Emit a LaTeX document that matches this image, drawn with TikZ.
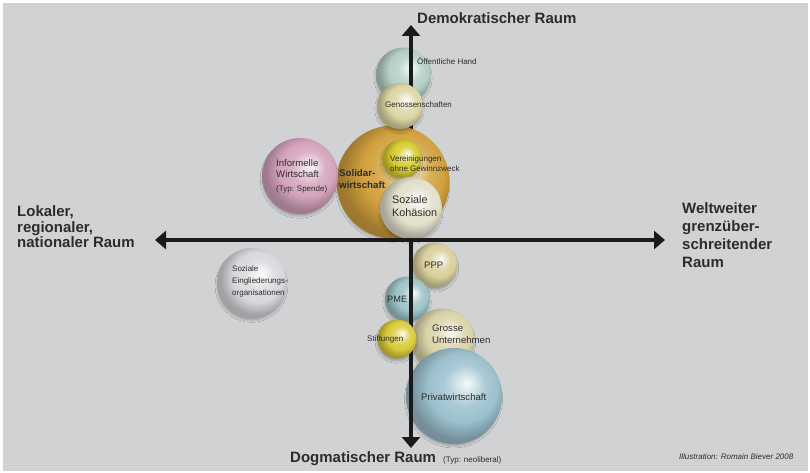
\documentclass[tikz,border=0pt]{standalone}
\usepackage{fontspec}
\setmainfont{Liberation Sans}
\usetikzlibrary{arrows.meta,shadows.blur}
\definecolor{bg}{HTML}{D1D2D4}
\definecolor{txt}{HTML}{2C2C2C}
\definecolor{axc}{HTML}{1A1A1A}
\definecolor{cOh}{HTML}{B4CFC6}
\definecolor{cGen}{HTML}{DCD6A4}
\definecolor{cSol}{HTML}{D2A13E}
\definecolor{cVer}{HTML}{D6CB2E}
\definecolor{cKoh}{HTML}{E2DFCB}
\definecolor{cInf}{HTML}{D4A3BD}
\definecolor{cSei}{HTML}{D8D8DC}
\definecolor{cPpp}{HTML}{D8CF9C}
\definecolor{cPme}{HTML}{9CC3C6}
\definecolor{cSti}{HTML}{D9CB3A}
\definecolor{cGro}{HTML}{DAD3A8}
\definecolor{cPri}{HTML}{9CC0CE}
\colorlet{bubcol}{white}
\pgfdeclareradialshading[bubcol]{bubble}{\pgfqpoint{7bp}{7bp}}{%
  color(0bp)=(bubcol!8!white); color(3bp)=(bubcol!30!white);
  color(11bp)=(bubcol!85!white); color(18bp)=(bubcol);
  color(26bp)=(bubcol!75!black); color(50bp)=(bubcol!68!black)}
\tikzset{
  bubc/.code={\colorlet{bubcol}{#1}},
  bub/.style={circle, inner sep=0pt, draw=none, shade, shading=bubble,
    blur shadow={shadow xshift=-0.5pt, shadow yshift=-3pt, shadow scale=0.97, shadow blur radius=2.5pt, shadow blur steps=6, shadow opacity=28}},
  lab/.style={text=txt, font=\fontsize{8}{10}\selectfont, inner sep=0pt, anchor=west, align=left},
  big/.style={text=txt, font=\bfseries\fontsize{15}{15.5}\selectfont, inner sep=0pt, anchor=west, align=left},
  axis/.style={line width=4pt, draw=axc, arrows={Triangle[length=11pt,width=18pt]-Triangle[length=11pt,width=18pt]}}
}
\begin{document}
\begin{tikzpicture}[x=1pt,y=-1pt]
\useasboundingbox (0,0) rectangle (810,473);
\fill[white] (0,0) rectangle (810,473);
\fill[bg] (3,3) rectangle (808,471);
% coordinates of the axes
\coordinate (vtop) at (411,25);
\coordinate (vbot) at (411,448);
\coordinate (hl) at (155,240);
\coordinate (hr) at (665,240);
% bubbles behind the vertical axis
\node[bub, bubc=cOh, minimum size=55pt] (oh) at (403.5,75) {};
\node[bub, bubc=cPpp, minimum size=45pt] (ppp) at (435,265) {};
\node[bub, bubc=cPme, minimum size=45pt] (pme) at (407.5,299) {};
\node[bub, bubc=cGro, minimum size=63pt] (gro) at (443,340) {};
\node[bub, bubc=cPri, minimum size=96pt] (pri) at (454,396) {};
% vertical axis
\draw[axis] (vbot) -- (vtop);
% bubbles in front
\node[bub, bubc=cSol, minimum size=113pt] (sol) at (393,182) {};
\node[bub, bubc=cGen, minimum size=46pt] (gen) at (400,106) {};
\node[bub, bubc=cVer, minimum size=39pt] (ver) at (402,159) {};
\node[bub, bubc=cKoh, minimum size=62pt] (koh) at (411,208) {};
\node[bub, bubc=cInf, minimum size=76pt] (inf) at (300,176) {};
\node[bub, bubc=cSei, minimum size=70pt] (sei) at (252,283) {};
\node[bub, bubc=cSti, minimum size=39pt] (sti) at (397,339) {};
% horizontal axis
\draw[axis] (hl) -- (hr);
% labels
\node[lab] (loh) at (417,61) {Öffentliche Hand};
\node[lab] (lgen) at (385,105) {Genossenschaften};
\node[lab, font=\fontsize{8}{10}\selectfont] (lver) at (390,164) {Vereinigungen\\ohne Gewinnzweck};
\node[lab, font=\fontsize{10.8}{13}\selectfont] (lkoh) at (392,206.5) {Soziale\\Kohäsion};
\node[lab, font=\bfseries\fontsize{9.7}{12}\selectfont] (lsol) at (339,179) {Solidar-\\wirtschaft};
\node[lab, font=\fontsize{9.6}{11}\selectfont] (linf) at (276,168.5) {Informelle\\Wirtschaft};
\node[lab] (linf2) at (276,189) {(Typ: Spende)};
\node[lab, font=\fontsize{8}{12}\selectfont] (lsei) at (232,281) {Soziale\\Eingliederungs-\\organisationen};
\node[lab, font=\fontsize{9.5}{11}\selectfont] (lppp) at (424,265) {PPP};
\node[lab, font=\fontsize{9.2}{11}\selectfont] (lpme) at (387,299) {PME};
\node[lab] (lsti) at (367,339) {Stiftungen};
\node[lab, font=\fontsize{9.6}{12}\selectfont] (lgro) at (432,334) {Grosse\\Unternehmen};
\node[lab, font=\fontsize{9.6}{11}\selectfont] (lpri) at (421,397) {Privatwirtschaft};
% axis titles
\node[big] (tdem) at (417,18) {Demokratischer Raum};
\node[big] (tlok) at (17,227) {Lokaler,\\regionaler,\\nationaler Raum};
\node[big, font=\bfseries\fontsize{15}{18}\selectfont] (twel) at (682,235) {Weltweiter\\grenzüber-\\schreitender\\Raum};
\node[big, anchor=base west] (tdog) at (290,462) {Dogmatischer Raum};
\node[lab, anchor=base west] (tneo) at (443,462) {(Typ: neoliberal)};
\node[lab, font=\itshape\fontsize{8}{10}\selectfont] (till) at (679,457) {Illustration: Romain Biever 2008};
\end{tikzpicture}
\end{document}
